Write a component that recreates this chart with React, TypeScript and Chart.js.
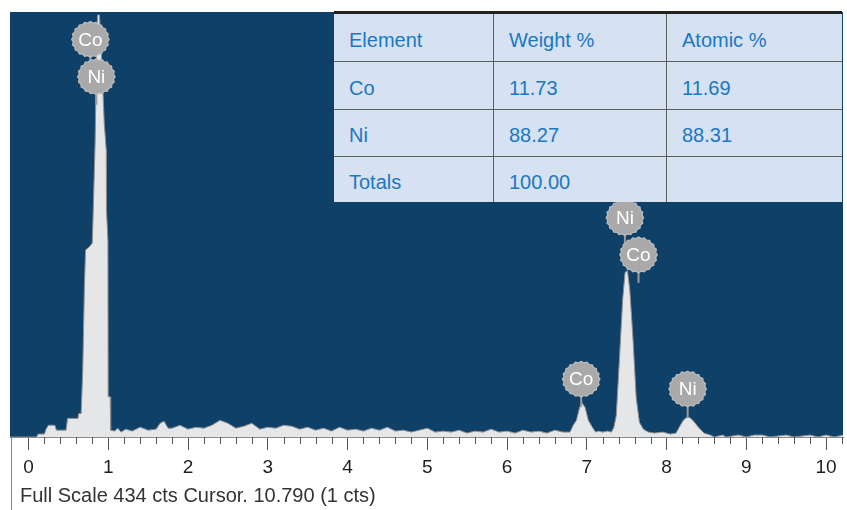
import React, { useEffect, useRef } from "react";
import { Chart, registerables } from "chart.js";

Chart.register(...registerables);

// ---- data ----
const energies = [
  -0.23, 0.1, 0.12, 0.2, 0.22, 0.25, 0.33, 0.35, 0.47, 0.49, 0.62, 0.63, 0.66, 0.68, 0.7, 0.715, 0.76, 0.8,
  0.815, 0.835, 0.85, 0.865, 0.89, 0.92, 0.95, 0.975, 0.978, 0.996, 0.999, 1.025, 1.03, 1.08, 1.12, 1.16,
  1.22, 1.3, 1.4, 1.5, 1.6, 1.65, 1.7, 1.75, 1.8, 1.9, 2.0, 2.1, 2.2, 2.3, 2.4, 2.5, 2.6, 2.7, 2.8, 2.9,
  3.0, 3.1, 3.2, 3.3, 3.4, 3.5, 3.6, 3.7, 3.8, 3.9, 4.0, 4.1, 4.2, 4.3, 4.4, 4.5, 4.6, 4.7, 4.8, 4.9,
  5.0, 5.1, 5.2, 5.3, 5.4, 5.5, 5.6, 5.7, 5.8, 5.9, 6.0, 6.1, 6.2, 6.3, 6.4, 6.5, 6.6, 6.7, 6.79, 6.83,
  6.87, 6.91, 6.94, 6.98, 7.02, 7.07, 7.11, 7.15, 7.2, 7.26, 7.31, 7.34, 7.37, 7.41, 7.45, 7.48, 7.51,
  7.54, 7.58, 7.62, 7.66, 7.71, 7.77, 7.85, 7.95, 8.05, 8.12, 8.16, 8.21, 8.25, 8.29, 8.33, 8.4, 8.47,
  8.55, 8.6, 8.7, 8.75, 8.9, 9.0, 9.1, 9.2, 9.3, 9.5, 9.6, 9.8, 9.9, 10.0, 10.1, 10.22,
];
const counts = [
  0, 0, 3, 3, 8, 12, 12, 7, 7, 19, 19, 24, 24, 68, 150, 191, 194, 198,
  240, 300, 380, 431, 431, 380, 320, 293, 232, 200, 41, 41, 7, 6, 9, 5,
  8, 6, 10, 7, 8, 14, 16, 9, 9, 12, 8, 10, 9, 12, 17, 14, 9, 11, 14, 8,
  10, 9, 12, 11, 8, 10, 7, 9, 6, 10, 7, 8, 6, 9, 7, 10, 6, 7, 5, 7,
  9, 5, 6, 5, 7, 4, 6, 5, 8, 5, 6, 4, 7, 5, 6, 4, 7, 5, 5, 12,
  17, 30, 35, 30, 17, 10, 5, 6, 5, 6, 5, 10, 22, 80, 140, 168, 170,
  150, 100, 40, 15, 8, 5, 4, 5, 3, 4, 10, 17, 20, 20, 17, 10, 4,
  2, 0, 2, 0, 2, 0, 2, 2, 0, 2, 0, 2, 0, 2, 0, 2,
];

const markerLabels = ["Co", "Ni", "Ni", "Co", "Co", "Ni"];
const markerEnergies = [0.776, 0.851, 7.478, 7.649, 6.93, 8.265];
const markerHeights = [406, 368, 224, 186, 59, 49];

const tableHeader = ["Element", "Weight %", "Atomic %"];
const tableElements = ["Co", "Ni", "Totals"];
const weightPct = ["11.73", "88.27", "100.00"];
const atomicPct = ["11.69", "88.31", ""];

const footerText = "Full Scale 434 cts Cursor. 10.790 (1 cts)";
const fullScale = 434;

const FONT = "'Liberation Sans', Arial, Helvetica, sans-serif";

const decoPlugin = {
  id: "edsDeco",
  beforeDraw(chart: any) {
    const { ctx } = chart;
    const { left, top, right, bottom } = chart.chartArea;
    ctx.save();
    ctx.fillStyle = "#0f4068";
    ctx.fillRect(left, top, right - left, bottom - top);
    ctx.restore();
  },
  afterDatasetsDraw(chart: any) {
    const { ctx } = chart;
    const xs = chart.scales.x;
    const ys = chart.scales.y;
    const r = 18;
    ctx.save();
    for (let i = 0; i < markerLabels.length; i++) {
      const x = xs.getPixelForValue(markerEnergies[i]);
      const y = ys.getPixelForValue(markerHeights[i]);
      ctx.strokeStyle = "#9d9d9d";
      ctx.lineWidth = 2;
      ctx.beginPath();
      ctx.moveTo(x, y + r - 2);
      ctx.lineTo(x, y + r + 10);
      ctx.stroke();
      ctx.beginPath();
      const n = 40;
      for (let k = 0; k <= n; k++) {
        const a = (k / n) * Math.PI * 2;
        const rr = r + (k % 2 === 0 ? 0.8 : -0.6);
        const px = x + Math.cos(a) * rr;
        const py = y + Math.sin(a) * rr * 0.95;
        if (k === 0) ctx.moveTo(px, py);
        else ctx.lineTo(px, py);
      }
      ctx.closePath();
      ctx.fillStyle = "#a9a9a9";
      ctx.fill();
      ctx.strokeStyle = "#bcbcbc";
      ctx.lineWidth = 1.2;
      ctx.stroke();
      ctx.fillStyle = "#ffffff";
      ctx.font = `19px ${FONT}`;
      ctx.textAlign = "center";
      ctx.textBaseline = "middle";
      ctx.fillText(markerLabels[i], x, y + 1);
    }
    ctx.restore();
  },
  afterDraw(chart: any) {
    const { ctx } = chart;
    const xs = chart.scales.x;
    const { left, right, bottom } = chart.chartArea;
    ctx.save();
    ctx.strokeStyle = "#555555";
    ctx.lineWidth = 1;
    for (let k = 1; k <= 51; k++) {
      if (k % 5 === 0) continue;
      const px = Math.round(xs.getPixelForValue(k * 0.2)) + 0.5;
      if (px > right) continue;
      ctx.beginPath();
      ctx.moveTo(px, bottom);
      ctx.lineTo(px, bottom + 7);
      ctx.stroke();
    }
    ctx.strokeStyle = "#6d87a0";
    ctx.beginPath();
    ctx.moveTo(left + 1.5, bottom);
    ctx.lineTo(left + 1.5, chart.height);
    ctx.stroke();
    ctx.fillStyle = "#333333";
    ctx.font = `20px ${FONT}`;
    ctx.textAlign = "left";
    ctx.textBaseline = "middle";
    ctx.fillText(footerText, 20, 496);
    ctx.restore();
  },
};

const colLefts = [334, 494, 667];
const colWidths = [160, 173, 175];
const rowTops = [14, 62, 110, 157];
const rowHeights = [48, 48, 47, 45];

export default function App() {
  const canvasRef = useRef<HTMLCanvasElement | null>(null);

  useEffect(() => {
    const canvas = canvasRef.current;
    if (!canvas) return;
    const chart = new Chart(canvas, {
      type: "line",
      data: {
        datasets: [
          {
            data: energies.map((e, i) => ({ x: e, y: counts[i] })),
            fill: "origin",
            borderColor: "#8e8e8e",
            borderWidth: 1,
            backgroundColor: "#e5e6e8",
            pointRadius: 0,
            tension: 0,
          },
        ],
      },
      options: {
        responsive: false,
        animation: false,
        events: [],
        layout: { padding: { left: 10, right: 4, top: 12, bottom: 0 } },
        plugins: { legend: { display: false }, tooltip: { enabled: false }, title: { display: false } },
        scales: {
          x: {
            type: "linear",
            min: -0.232,
            max: 10.213,
            afterFit: (scale: any) => {
              scale.height = 73;
            },
            ticks: {
              stepSize: 1,
              includeBounds: false,
              autoSkip: false,
              maxRotation: 0,
              color: "#1e1e1e",
              font: { size: 19, family: FONT },
              padding: 6,
              callback: (v: any) => (Number.isInteger(v) ? String(v) : ""),
            },
            grid: {
              drawOnChartArea: false,
              drawTicks: true,
              tickLength: 13,
              tickColor: "#555555",
              tickWidth: 1,
            },
            border: { display: true, color: "#8a8a8a", width: 1 },
          },
          y: {
            display: false,
            min: 0,
            max: fullScale,
          },
        },
      },
      plugins: [decoPlugin],
    });
    return () => chart.destroy();
  }, []);

  const rows = [tableHeader, ...tableElements.map((el, i) => [el, weightPct[i], atomicPct[i]])];

  return (
    <div style={{ position: "absolute", left: 0, top: 0, width: 847, height: 510, background: "#fff" }}>
      <canvas ref={canvasRef} width={847} height={510} style={{ display: "block" }} />
      <div
        style={{
          position: "absolute",
          left: 334,
          top: 11,
          width: 508,
          height: 191,
          background: "#d6e1f1",
          borderTop: "3px solid #222",
          boxSizing: "border-box",
        }}
      />
      {rows.map((row, ri) =>
        row.map((txt, ci) => (
          <div
            key={`${ri}-${ci}`}
            style={{
              position: "absolute",
              left: colLefts[ci],
              top: rowTops[ri],
              width: colWidths[ci],
              height: rowHeights[ri],
              boxSizing: "border-box",
              borderRight: ci < 2 ? "1px solid #5e5e5e" : "none",
              borderBottom: ri < 3 ? "1px solid #5e5e5e" : "none",
              display: "flex",
              alignItems: "center",
              paddingLeft: 15,
              paddingTop: 5,
              fontFamily: FONT,
              fontSize: 20,
              color: "#1a78c3",
            }}
          >
            {txt}
          </div>
        ))
      )}
    </div>
  );
}
